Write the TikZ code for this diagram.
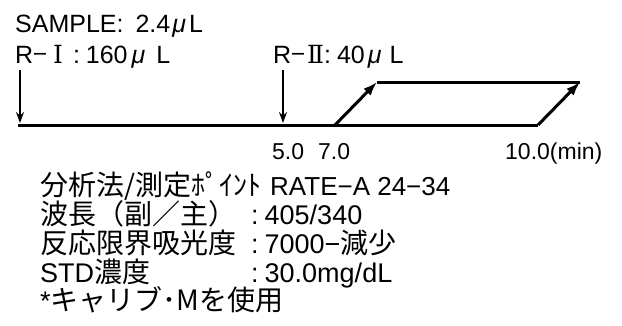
\documentclass[tikz,border=0pt]{standalone}
\usepackage{fontspec}
\setmainfont{Liberation Sans}
\newfontfamily\jp{Noto Sans CJK JP}
\newfontfamily\rom{DejaVu Serif}
\usetikzlibrary{arrows.meta,positioning}
\tikzset{>=stealth}

\begin{document}
\begin{tikzpicture}[x=1pt,y=-1pt,
	txt/.style={anchor=base west,inner sep=0pt,font=\fontsize{25}{28}\selectfont},
	tick/.style={txt,font=\fontsize{23}{28}\selectfont},
	cond/.style={txt,font=\fontsize{27}{30}\selectfont},
	axis/.style={line width=3pt},
	drop/.style={line width=1.6pt,-{Stealth[length=11pt,width=8pt]}},
	rise/.style={line width=3pt,-{Latex[length=14pt,width=10pt]}}]
	\useasboundingbox (0,0) rectangle (622,325);
	%Reagents
	\node[txt] (smp) at (15,32) {SAMPLE:\hspace{12pt}2.4\hspace{2pt}{\itshape μ}\hspace{3pt}L};
	\node[txt] (r1) at (15,63) {R{\jp −}\hspace{6pt}{\rom Ⅰ}\hspace{10pt}:\hspace{6pt}160\hspace{4pt}{\itshape μ}\hspace{11pt}L};
	\node[txt] (r2) at (273,63) {R{\jp −}\hspace{2pt}{\rom Ⅱ}:\hspace{6pt}40\hspace{3pt}{\itshape μ}\hspace{8pt}L};
	%Time axis
	\coordinate (A) at (18,125);
	\coordinate (B) at (538,125);
	\coordinate (C) at (335,125);
	\coordinate (D) at (377,82);
	\coordinate (E) at (580,82);
	\coordinate (F) at (20,70);
	\coordinate (G) at (20,123);
	\coordinate (H) at (283,70);
	\coordinate (I) at (283,123);
	\draw[axis] (A) -- (B);
	\draw[axis] (D) -- (E);
	\draw[drop] (F) -- (G);
	\draw[drop] (H) -- (I);
	\draw[rise] (C) -- (D);
	\draw[rise] (B) -- (E);
	%Times
	\node[tick] (t5) at (272,159) {5.0};
	\node[tick] (t7) at (318,159) {7.0};
	\node[tick] (t10) at (505,159) {10.0(min)};
	%Conditions
	\node[cond] (p1) at (40,195) {{\jp\fontsize{28}{30}\selectfont 分析法/測定ﾎﾟｲﾝﾄ}\hspace{9pt}{\fontsize{26}{30}\selectfont RATE−A 24−34}};
	\node[cond] (p2) at (40,224) {\jp\fontsize{28}{30}\selectfont 波長（副／主）};
	\node[cond] (v2) at (251,224) {:\hspace{6pt}405/340};
	\node[cond] (p3) at (40,253) {\jp\fontsize{28}{30}\selectfont 反応限界吸光度};
	\node[cond] (v3) at (251,253) {:\hspace{6pt}7000−{\jp\fontsize{28}{30}\selectfont 減少}};
	\node[cond] (p4) at (40,282) {STD{\jp\fontsize{28}{30}\selectfont 濃度}};
	\node[cond] (v4) at (251,282) {:\hspace{6pt}30.0mg/dL};
	\node[cond] (p5) at (40,310) {*{\jp\fontsize{28}{30}\selectfont キャリブ･M}{\jp\fontsize{28}{30}\selectfont を使用}};
\end{tikzpicture}
\end{document}
